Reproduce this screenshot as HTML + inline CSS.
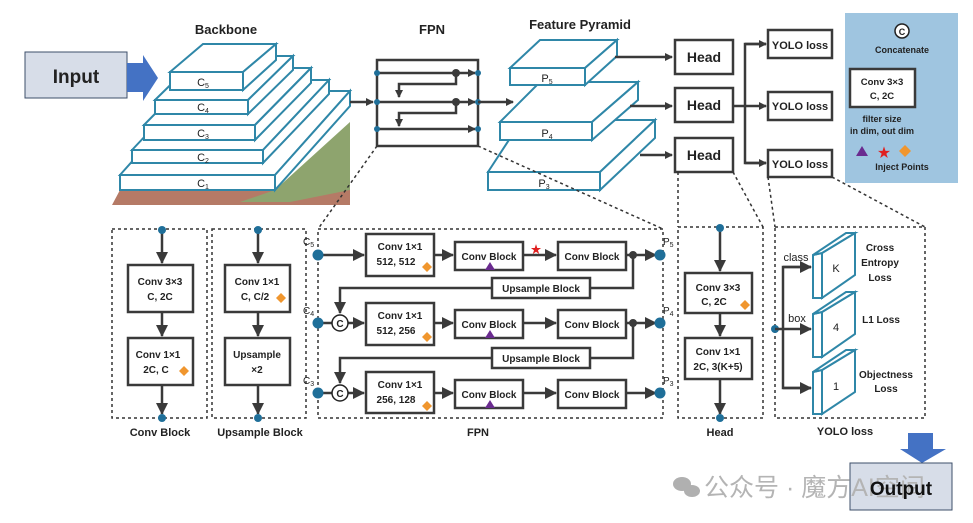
<!DOCTYPE html>
<html><head><meta charset="utf-8"><style>
html,body{margin:0;padding:0;background:#fff}
svg{display:block}
text{font-family:"Liberation Sans","Noto Sans CJK SC",sans-serif;font-weight:bold;fill:#222}
</style></head><body>
<svg width="973" height="523" viewBox="0 0 973 523" xmlns="http://www.w3.org/2000/svg">
<defs>
<marker id="a" markerWidth="8" markerHeight="8" refX="7" refY="4" orient="auto" markerUnits="userSpaceOnUse"><path d="M0,0 L8,4 L0,8 z" fill="#3a3a3a"/></marker>
<marker id="b" markerWidth="12" markerHeight="12" refX="11" refY="6" orient="auto" markerUnits="userSpaceOnUse"><path d="M0,0 L12,6 L0,12 z" fill="#3a3a3a"/></marker>
</defs>

<!-- Input -->
<rect x="25" y="52" width="102" height="46" fill="#d7dde8" stroke="#3d4f6a" stroke-width="1"/>
<text x="76" y="83" font-size="19" text-anchor="middle">Input</text>
<path d="M127,63 L143,63 L143,55 L158,78 L143,101 L143,92 L127,92 z" fill="#4472c4"/>

<!-- Backbone -->
<text x="226" y="34" font-size="13" text-anchor="middle">Backbone</text>
<polygon points="112,205 120,190 275,190 350,185 350,205" fill="#b57a66"/>
<polygon points="240,202 275,190 350,122 350,190 290,202" fill="#8ea46e"/>
<g fill="#fff" stroke="#2f87a8" stroke-width="2">
<polygon points="120,175 195,91 350,91 275,175"/><polygon points="275,175 350,91 350,106 275,190"/><rect x="120" y="175" width="155" height="15"/>
<polygon points="132,150 198,80 329,80 263,150"/><polygon points="263,150 329,80 329,94 263,163"/><rect x="132" y="150" width="131" height="13"/>
<polygon points="144,125 200,68 311,68 255,125"/><polygon points="255,125 311,68 311,83 255,140"/><rect x="144" y="125" width="111" height="15"/>
<polygon points="155,100 200,56 293,56 248,100"/><polygon points="248,100 293,56 293,70 248,114"/><rect x="155" y="100" width="93" height="14"/>
<polygon points="170,72 203,44 276,44 243,72"/><polygon points="243,72 276,44 276,60 243,90"/><rect x="170" y="72" width="73" height="18"/>
</g>
<g font-size="11" text-anchor="middle">
<text x="203" y="86" style="font-weight:normal">C<tspan font-size="7" dy="2">5</tspan></text>
<text x="203" y="111" style="font-weight:normal">C<tspan font-size="7" dy="2">4</tspan></text>
<text x="203" y="137" style="font-weight:normal">C<tspan font-size="7" dy="2">3</tspan></text>
<text x="203" y="161" style="font-weight:normal">C<tspan font-size="7" dy="2">2</tspan></text>
<text x="203" y="187" style="font-weight:normal">C<tspan font-size="7" dy="2">1</tspan></text>
</g>
<line x1="350" y1="102" x2="373" y2="102" stroke="#3a3a3a" stroke-width="2.5" marker-end="url(#a)"/>

<!-- FPN small -->
<text x="432" y="34" font-size="13" text-anchor="middle">FPN</text>
<rect x="377" y="60" width="101" height="86" fill="#fff" stroke="#3a3a3a" stroke-width="2.5"/>
<g stroke="#3a3a3a" stroke-width="2.5" fill="none">
<line x1="377" y1="73" x2="475" y2="73" marker-end="url(#a)"/>
<line x1="377" y1="102" x2="475" y2="102" marker-end="url(#a)"/>
<line x1="377" y1="129" x2="475" y2="129" marker-end="url(#a)"/>
<polyline points="456,73 456,84 399,84 399,97" marker-end="url(#a)"/>
<polyline points="456,102 456,113 399,113 399,126" marker-end="url(#a)"/>
</g>
<g fill="#3a3a3a"><circle cx="456" cy="73" r="4"/><circle cx="456" cy="102" r="4"/></g>
<g fill="#1f6f99"><circle cx="377" cy="73" r="3"/><circle cx="377" cy="102" r="3"/><circle cx="377" cy="129" r="3"/><circle cx="478" cy="73" r="3"/><circle cx="478" cy="102" r="3"/><circle cx="478" cy="129" r="3"/></g>
<line x1="478" y1="102" x2="513" y2="102" stroke="#3a3a3a" stroke-width="2.5" marker-end="url(#a)"/>

<!-- Feature pyramid -->
<text x="580" y="29" font-size="13" text-anchor="middle">Feature Pyramid</text>
<g fill="#fff" stroke="#2f87a8" stroke-width="2">
<polygon points="488,172 522,120 655,120 600,172"/><polygon points="600,172 655,120 655,138 600,190"/><rect x="488" y="172" width="112" height="18"/>
<polygon points="500,122 540,82 638,82 592,122"/><polygon points="592,122 638,82 638,100 592,140"/><rect x="500" y="122" width="92" height="18"/>
<polygon points="510,68 540,40 617,40 585,68"/><polygon points="585,68 617,40 617,56 585,85"/><rect x="510" y="68" width="75" height="17"/>
</g>
<text x="547" y="82" font-size="11" text-anchor="middle" style="font-weight:normal">P<tspan font-size="7" dy="2">5</tspan></text>
<text x="547" y="137" font-size="11" text-anchor="middle" style="font-weight:normal">P<tspan font-size="7" dy="2">4</tspan></text>
<text x="544" y="187" font-size="11" text-anchor="middle" style="font-weight:normal">P<tspan font-size="7" dy="2">3</tspan></text>

<g stroke="#3a3a3a" stroke-width="2.5" fill="none">
<line x1="615" y1="57" x2="672" y2="57" marker-end="url(#a)"/>
<line x1="630" y1="106" x2="672" y2="106" marker-end="url(#a)"/>
<line x1="640" y1="155" x2="672" y2="155" marker-end="url(#a)"/>
<line x1="733" y1="106" x2="745" y2="106"/>
<polyline points="766,44 745,44 745,163 766,163" />
<line x1="745" y1="44" x2="766" y2="44" marker-end="url(#a)"/>
<line x1="745" y1="106" x2="766" y2="106" marker-end="url(#a)"/>
<line x1="745" y1="163" x2="766" y2="163" marker-end="url(#a)"/>
</g>
<g fill="#fff" stroke="#3a3a3a" stroke-width="2.5">
<rect x="675" y="40" width="58" height="34"/><rect x="675" y="88" width="58" height="34"/><rect x="675" y="138" width="58" height="34"/>
<rect x="768" y="30" width="64" height="28"/><rect x="768" y="92" width="64" height="28"/><rect x="768" y="150" width="64" height="27"/>
</g>
<g font-size="14" text-anchor="middle"><text x="704" y="62">Head</text><text x="704" y="110">Head</text><text x="704" y="160">Head</text></g>
<g font-size="11" text-anchor="middle"><text x="800" y="49">YOLO loss</text><text x="800" y="110">YOLO loss</text><text x="800" y="168">YOLO loss</text></g>

<!-- Legend -->
<rect x="845" y="13" width="113" height="170" fill="#9fc5e0"/>
<circle cx="902" cy="31" r="7" fill="#fff" stroke="#222" stroke-width="1.5"/>
<text x="902" y="35" font-size="9" text-anchor="middle">C</text>
<text x="902" y="53" font-size="9" text-anchor="middle">Concatenate</text>
<rect x="850" y="69" width="65" height="38" fill="#fff" stroke="#3a3a3a" stroke-width="2.5"/>
<text x="882" y="85" font-size="9.5" text-anchor="middle">Conv 3×3</text>
<text x="882" y="99" font-size="9.5" text-anchor="middle">C, 2C</text>
<text x="882" y="122" font-size="9" text-anchor="middle">filter size</text>
<text x="882" y="134" font-size="9" text-anchor="middle">in dim, out dim</text>
<polygon points="862,146 868,156 856,156" fill="#6a2b8f"/>
<text x="884" y="157" font-size="13" text-anchor="middle" style="fill:#e02020">★</text>
<polygon points="905,145 911,151 905,157 899,151" fill="#f0962e"/>
<text x="902" y="170" font-size="9" text-anchor="middle">Inject Points</text>

<!-- dotted connectors -->
<g stroke="#333" stroke-width="1.5" stroke-dasharray="3,3" fill="none">
<line x1="377" y1="146" x2="318" y2="229"/><line x1="478" y1="146" x2="663" y2="229"/>
<line x1="678" y1="172" x2="678" y2="227"/><line x1="733" y1="172" x2="763" y2="227"/>
<line x1="768" y1="177" x2="775" y2="227"/><line x1="832" y1="177" x2="925" y2="227"/>
<rect x="112" y="229" width="95" height="189"/>
<rect x="212" y="229" width="94" height="189"/>
<rect x="318" y="229" width="345" height="189"/>
<rect x="678" y="227" width="85" height="191"/>
<rect x="775" y="227" width="150" height="191"/>
</g>

<g stroke="#3a3a3a" stroke-width="2.5" fill="none">
<line x1="162" y1="230" x2="162" y2="263" marker-end="url(#b)"/>
<line x1="162" y1="312" x2="162" y2="336" marker-end="url(#b)"/>
<line x1="162" y1="385" x2="162" y2="414" marker-end="url(#b)"/>
<line x1="258" y1="230" x2="258" y2="263" marker-end="url(#b)"/>
<line x1="258" y1="312" x2="258" y2="336" marker-end="url(#b)"/>
<line x1="258" y1="385" x2="258" y2="414" marker-end="url(#b)"/>
<line x1="720" y1="228" x2="720" y2="271" marker-end="url(#b)"/>
<line x1="720" y1="313" x2="720" y2="336" marker-end="url(#b)"/>
<line x1="720" y1="379" x2="720" y2="414" marker-end="url(#b)"/>
</g>
<g fill="#fff" stroke="#3a3a3a" stroke-width="2.5">
<rect x="128" y="265" width="65" height="47"/><rect x="128" y="338" width="65" height="47"/>
<rect x="225" y="265" width="65" height="47"/><rect x="225" y="338" width="65" height="47"/>
<rect x="685" y="273" width="67" height="40"/><rect x="685" y="338" width="67" height="41"/>
</g>
<g font-size="10" text-anchor="middle">
<text x="160" y="285">Conv 3×3</text><text x="160" y="300">C, 2C</text>
<text x="158" y="358">Conv 1×1</text><text x="156" y="373">2C, C</text>
<text x="257" y="285">Conv 1×1</text><text x="255" y="300">C, C/2</text>
<text x="257" y="358">Upsample</text><text x="257" y="373">×2</text>
<text x="718" y="291">Conv 3×3</text><text x="714" y="305">C, 2C</text>
<text x="718" y="355">Conv 1×1</text><text x="718" y="370">2C, 3(K+5)</text>
</g>
<g fill="#1f6f99"><circle cx="162" cy="230" r="4"/><circle cx="162" cy="418" r="4"/><circle cx="258" cy="230" r="4"/><circle cx="258" cy="418" r="4"/><circle cx="720" cy="228" r="4"/><circle cx="720" cy="418" r="4"/></g>
<g font-size="11" text-anchor="middle"><text x="160" y="436">Conv Block</text><text x="260" y="436">Upsample Block</text><text x="478" y="436">FPN</text><text x="720" y="436">Head</text><text x="845" y="435">YOLO loss</text></g>

<!-- FPN detail -->
<g stroke="#3a3a3a" stroke-width="2.5" fill="none">
<line x1="318" y1="255" x2="364" y2="255" marker-end="url(#b)"/>
<line x1="434" y1="255" x2="453" y2="255" marker-end="url(#b)"/>
<line x1="523" y1="255" x2="556" y2="255" marker-end="url(#b)"/>
<line x1="626" y1="255" x2="656" y2="255" marker-end="url(#b)"/>
<polyline points="633,255 633,288 590,288"/>
<polyline points="492,288 340,288 340,313" marker-end="url(#b)"/>
<line x1="318" y1="323" x2="332" y2="323"/>
<line x1="348" y1="323" x2="364" y2="323" marker-end="url(#b)"/>
<line x1="434" y1="323" x2="453" y2="323" marker-end="url(#b)"/>
<line x1="523" y1="323" x2="556" y2="323" marker-end="url(#b)"/>
<line x1="626" y1="323" x2="656" y2="323" marker-end="url(#b)"/>
<polyline points="633,323 633,358 590,358"/>
<polyline points="492,358 340,358 340,383" marker-end="url(#b)"/>
<line x1="318" y1="393" x2="332" y2="393"/>
<line x1="348" y1="393" x2="364" y2="393" marker-end="url(#b)"/>
<line x1="434" y1="393" x2="453" y2="393" marker-end="url(#b)"/>
<line x1="523" y1="393" x2="556" y2="393" marker-end="url(#b)"/>
<line x1="626" y1="393" x2="656" y2="393" marker-end="url(#b)"/>
</g>
<g fill="#fff" stroke="#3a3a3a" stroke-width="2.5">
<rect x="366" y="234" width="68" height="42"/><rect x="455" y="242" width="68" height="28"/><rect x="558" y="242" width="68" height="28"/>
<rect x="492" y="278" width="98" height="20"/>
<rect x="366" y="303" width="68" height="42"/><rect x="455" y="310" width="68" height="28"/><rect x="558" y="310" width="68" height="28"/>
<rect x="492" y="348" width="98" height="20"/>
<rect x="366" y="372" width="68" height="41"/><rect x="455" y="380" width="68" height="28"/><rect x="558" y="380" width="68" height="28"/>
</g>
<g fill="#fff" stroke="#222" stroke-width="1.5"><circle cx="340" cy="323" r="8"/><circle cx="340" cy="393" r="8"/></g>
<g font-size="10" text-anchor="middle">
<text x="340" y="327">C</text><text x="340" y="397">C</text>
<text x="400" y="250">Conv 1×1</text><text x="396" y="265">512, 512</text>
<text x="489" y="260">Conv Block</text><text x="592" y="260">Conv Block</text>
<text x="541" y="292">Upsample Block</text>
<text x="400" y="319">Conv 1×1</text><text x="396" y="334">512, 256</text>
<text x="489" y="328">Conv Block</text><text x="592" y="328">Conv Block</text>
<text x="541" y="362">Upsample Block</text>
<text x="400" y="388">Conv 1×1</text><text x="396" y="403">256, 128</text>
<text x="489" y="398">Conv Block</text><text x="592" y="398">Conv Block</text>
</g>
<g fill="#3a3a3a"><circle cx="633" cy="255" r="4"/><circle cx="633" cy="323" r="4"/></g>
<g fill="#1f6f99"><circle cx="318" cy="255" r="5.5"/><circle cx="318" cy="323" r="5.5"/><circle cx="318" cy="393" r="5.5"/><circle cx="660" cy="255" r="5.5"/><circle cx="660" cy="323" r="5.5"/><circle cx="660" cy="393" r="5.5"/><circle cx="775" cy="329" r="4"/></g>
<g font-size="10">
<text x="303" y="245" style="font-weight:normal">C<tspan font-size="7" dy="2">5</tspan></text>
<text x="303" y="314" style="font-weight:normal">C<tspan font-size="7" dy="2">4</tspan></text>
<text x="303" y="384" style="font-weight:normal">C<tspan font-size="7" dy="2">3</tspan></text>
<text x="663" y="245" style="font-weight:normal">P<tspan font-size="7" dy="2">5</tspan></text>
<text x="663" y="314" style="font-weight:normal">P<tspan font-size="7" dy="2">4</tspan></text>
<text x="663" y="384" style="font-weight:normal">P<tspan font-size="7" dy="2">3</tspan></text>
</g>
<g fill="#6a2b8f"><polygon points="490,262 495,270 485,270"/><polygon points="490,330 495,338 485,338"/><polygon points="490,400 495,408 485,408"/></g>
<text x="536" y="253" font-size="11" text-anchor="middle" style="fill:#e02020">★</text>
<g fill="#f0962e">
<polygon points="427,262 432,267 427,272 422,267"/><polygon points="427,332 432,337 427,342 422,337"/><polygon points="427,401 432,406 427,411 422,406"/>
<polygon points="184,366 189,371 184,376 179,371"/><polygon points="281,293 286,298 281,303 276,298"/><polygon points="745,300 750,305 745,310 740,305"/>
</g>

<!-- YOLO loss detail -->
<g stroke="#3a3a3a" stroke-width="2.5" fill="none">
<line x1="775" y1="329" x2="811" y2="329" marker-end="url(#b)"/>
<polyline points="811,267 783,267 783,388 811,388"/>
<line x1="783" y1="267" x2="811" y2="267" marker-end="url(#b)"/>
<line x1="783" y1="388" x2="811" y2="388" marker-end="url(#b)"/>
</g>
<g fill="#fff" stroke="#2f87a8" stroke-width="2">
<polygon points="813,255 822,253 822,298 813,298"/><polygon points="822,253 855,233 855,275 822,298"/><polygon points="813,255 846,233 855,233 822,253"/>
<polygon points="813,314 822,312 822,357 813,357"/><polygon points="822,312 855,292 855,334 822,357"/><polygon points="813,314 846,292 855,292 822,312"/>
<polygon points="813,372 822,370 822,414 813,414"/><polygon points="822,370 855,350 855,392 822,414"/><polygon points="813,372 846,350 855,350 822,370"/>
</g>
<g font-size="11" text-anchor="middle">
<text x="836" y="272" style="font-weight:normal">K</text><text x="836" y="331" style="font-weight:normal">4</text><text x="836" y="390" style="font-weight:normal">1</text>
<text x="796" y="261" style="font-weight:normal">class</text><text x="797" y="322" style="font-weight:normal">box</text>
</g>
<g font-size="10" text-anchor="middle">
<text x="880" y="251">Cross</text><text x="880" y="266">Entropy</text><text x="880" y="281">Loss</text>
<text x="881" y="323">L1 Loss</text>
<text x="886" y="378">Objectness</text><text x="886" y="392">Loss</text>
</g>

<!-- Output -->
<path d="M908,433 L933,433 L933,449 L946,449 L922,463 L900,449 L908,449 z" fill="#4472c4"/>
<rect x="850" y="463" width="102" height="47" fill="#d7dde8" stroke="#3d4f6a" stroke-width="1"/>
<g fill="#b0b0b0"><ellipse cx="682" cy="484" rx="9" ry="7"/><ellipse cx="692" cy="491" rx="8" ry="6"/></g>
<text x="704" y="496" font-size="25" style="fill:#b4b4b4;font-weight:normal">公众号 · 魔方AI空间</text>
<text x="901" y="495" font-size="19" text-anchor="middle" style="fill:#111">Output</text>
</svg>
</body></html>
